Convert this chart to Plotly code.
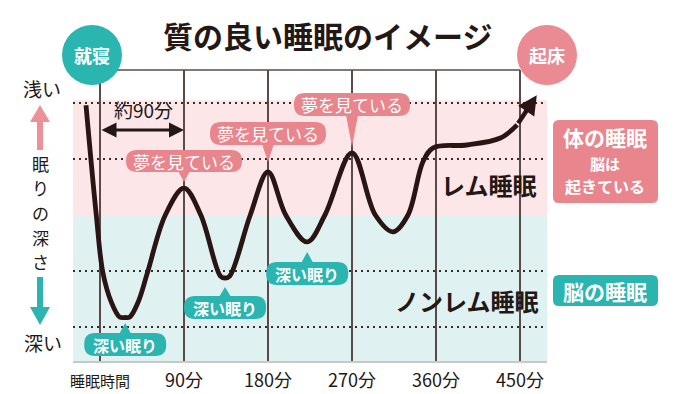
import plotly.graph_objects as go

# ---------------- data ----------------
sleep_time = [-15, -4, 3, 12, 21, 27, 32, 41, 51, 70, 90, 108, 129, 134, 139,
              161, 180, 199, 222, 241, 270, 295, 314, 330, 346, 357, 393, 429, 447, 468]
sleep_depth = [3.96, 2.0, 0.98, 0.45, 0.18, 0.17, 0.18, 0.45, 0.98, 2.0, 2.48, 2.0, 0.91, 0.875, 0.91,
               2.0, 2.77, 2.0, 1.52, 2.0, 3.11, 2.0, 1.70, 2.0, 2.95, 3.2, 3.25, 3.375, 3.61, 4.14]
tick_vals = [0, 90, 180, 270, 360, 450]
tick_text = ["<span style='font-size:15px'>睡眠時間</span>", "90分", "180分", "270分", "360分", "450分"]
dotted_levels = [4, 3, 1, 0]
rem_boundary = 2
dream_times = [90, 180, 270]
deep_times = [27, 134, 222]
axis_title_chars = ["眠", "り", "の", "深", "さ"]

FONT = "Noto Sans CJK JP"
DARK = "#231815"
TEAL = "#2bb5b0"
PINK = "#e9858d"

W, H = 680, 394
L, R, T, B = 73, 547, 70, 361
X0, X1 = (L - 100) * 90 / 84, (R - 100) * 90 / 84
Y0, Y1 = (327 - B) / 56, (327 - T) / 56


def px(x):
    return (x - L) / (R - L)


def py(y):
    return (B - y) / (B - T)


def tx(t):  # data minutes -> pixel x
    return 100 + t * 84 / 90


def rrect(x0, y0, x1, y1, r):
    return (f"M{px(x0+r)},{py(y0)} L{px(x1-r)},{py(y0)} Q{px(x1)},{py(y0)} {px(x1)},{py(y0+r)} "
            f"L{px(x1)},{py(y1-r)} Q{px(x1)},{py(y1)} {px(x1-r)},{py(y1)} "
            f"L{px(x0+r)},{py(y1)} Q{px(x0)},{py(y1)} {px(x0)},{py(y1-r)} "
            f"L{px(x0)},{py(y0+r)} Q{px(x0)},{py(y0)} {px(x0+r)},{py(y0)} Z")


def poly(pts):
    return "M" + " L".join(f"{px(a)},{py(b)}" for a, b in pts) + " Z"


shapes = []
annotations = []


def text(x, y, s, size, color=DARK, bold=False):
    annotations.append(dict(x=px(x), y=py(y), xref="paper", yref="paper", text=s, showarrow=False,
                            xanchor="center", yanchor="middle", borderpad=0,
                            font=dict(family=FONT, size=size, color=color,
                                      weight="bold" if bold else "normal")))


def path(d, color, layer="above"):
    shapes.append(dict(type="path", path=d, xref="paper", yref="paper", fillcolor=color,
                       line=dict(width=0), layer=layer))


# backgrounds
shapes.append(dict(type="rect", xref="x", yref="y", x0=X0, x1=X1, y0=rem_boundary, y1=4.05,
                   fillcolor="#fde6e8", line=dict(width=0), layer="below"))
shapes.append(dict(type="rect", xref="x", yref="y", x0=X0, x1=X1, y0=Y0, y1=rem_boundary,
                   fillcolor="#dff1f1", line=dict(width=0), layer="below"))
# dotted lines
for lv in dotted_levels:
    shapes.append(dict(type="line", xref="x", yref="y", x0=X0, x1=X1, y0=lv, y1=lv,
                       line=dict(color="#3a2a2a", width=2, dash="2px,4px"), layer="between"))
# top line
shapes.append(dict(type="line", xref="x", yref="paper", x0=0, x1=450, y0=1, y1=1,
                   line=dict(color="#5b4a4a", width=1.5), layer="above"))

# callouts: dreaming
for t, (y0, y1, tip) in zip(dream_times, [(150, 172, 182), (122, 145, 162), (93, 116, 147)]):
    cx = tx(t)
    path(rrect(cx - 58, y0, cx + 58, y1, 11), PINK)
    path(poly([(cx - 6, y1 - 1), (cx + 6, y1 - 1), (cx, tip)]), PINK)
    text(cx, (y0 + y1) / 2, "夢を見ている", 17, "white")

# callouts: deep sleep
for t, (y0, y1, tip) in zip(deep_times, [(333, 356, 323), (296, 319, 287), (262, 285, 252)]):
    cx = tx(t)
    path(rrect(cx - 41, y0, cx + 41, y1, 11), TEAL)
    path(poly([(cx - 6, y0 + 1), (cx + 6, y0 + 1), (cx, tip)]), TEAL)
    text(cx, (y0 + y1) / 2, "深い眠り", 16, "white", bold=True)

# right boxes
path(rrect(553, 120, 658, 203, 6), PINK)
text(605, 137, "体の睡眠", 21, "white", bold=True)
text(605, 163, "脳は", 15, "white", bold=True)
text(605, 186, "起きている", 16, "white", bold=True)
path(rrect(553, 275, 658, 306, 6), TEAL)
text(605, 291, "脳の睡眠", 21, "white", bold=True)

# circles
shapes.append(dict(type="circle", xref="paper", yref="paper", x0=px(62), x1=px(122), y0=py(25), y1=py(85),
                   fillcolor=TEAL, line=dict(width=0), layer="above"))
text(92, 55, "就寝", 18, "white", bold=True)
shapes.append(dict(type="circle", xref="paper", yref="paper", x0=px(517), x1=px(577), y0=py(25), y1=py(85),
                   fillcolor="#ea8a92", line=dict(width=0), layer="above"))
text(547, 55, "起床", 18, "white", bold=True)

# left axis
text(42, 88, "浅い", 19)
path(poly([(37, 150), (37, 122), (30, 122), (40, 105), (50, 122), (43, 122), (43, 150)]), "#ee9097")
for i, ch in enumerate(axis_title_chars):
    text(40, 163 + i * 24.7, ch, 17)
path(poly([(37, 277), (37, 307), (30, 307), (40, 325), (50, 307), (43, 307), (43, 277)]), TEAL)
text(43, 342, "深い", 19)

# title and zone labels
text(327, 35, "質の良い睡眠のイメージ", 30, bold=True)
text(489, 184, "レム睡眠", 24, bold=True)
text(467, 300, "ノンレム睡眠", 24, bold=True)

# 約90分
text(143, 110, "約90分", 19)
annotations.append(dict(x=90, y=3.52, ax=0, ay=3.52, xref="x", yref="y", axref="x", ayref="y",
                        text="", showarrow=True, arrowhead=2, arrowside="end+start", arrowwidth=3,
                        arrowsize=1.0, arrowcolor=DARK, standoff=0, startstandoff=0))

# arrow at end of curve
annotations.append(dict(x=sleep_time[-1], y=sleep_depth[-1], ax=sleep_time[-2], ay=sleep_depth[-2],
                        xref="x", yref="y", axref="x", ayref="y", text="", showarrow=True,
                        arrowhead=2, arrowwidth=4.5, arrowsize=0.85, arrowcolor="#2a1414", standoff=0))

fig = go.Figure(go.Scatter(x=sleep_time[:-1], y=sleep_depth[:-1], mode="lines",
                           line=dict(color="#2a1414", width=4.8, shape="spline", smoothing=1.0),
                           hoverinfo="skip"))

fig.update_layout(
    width=W, height=H, margin=dict(l=L, r=W - R, t=T, b=H - B, autoexpand=False),
    paper_bgcolor="white", plot_bgcolor="white", showlegend=False,
    shapes=shapes, annotations=annotations,
    xaxis=dict(range=[X0, X1], tickvals=tick_vals, ticktext=tick_text, showgrid=True,
               gridcolor="#5b4a4a", gridwidth=1.5, zeroline=False, showline=True,
               linecolor="#c8c8c8", linewidth=2, ticks="outside", ticklen=2,
               tickcolor="rgba(0,0,0,0)", tickfont=dict(family=FONT, size=18, color=DARK),
               fixedrange=True, automargin=False),
    yaxis=dict(range=[Y0, Y1], showgrid=False, zeroline=False, showticklabels=False,
               fixedrange=True, automargin=False),
    hovermode=False,
)

fig.write_html("out.html", config={"displayModeBar": False},
               post_script="document.body.style.margin='0';")
